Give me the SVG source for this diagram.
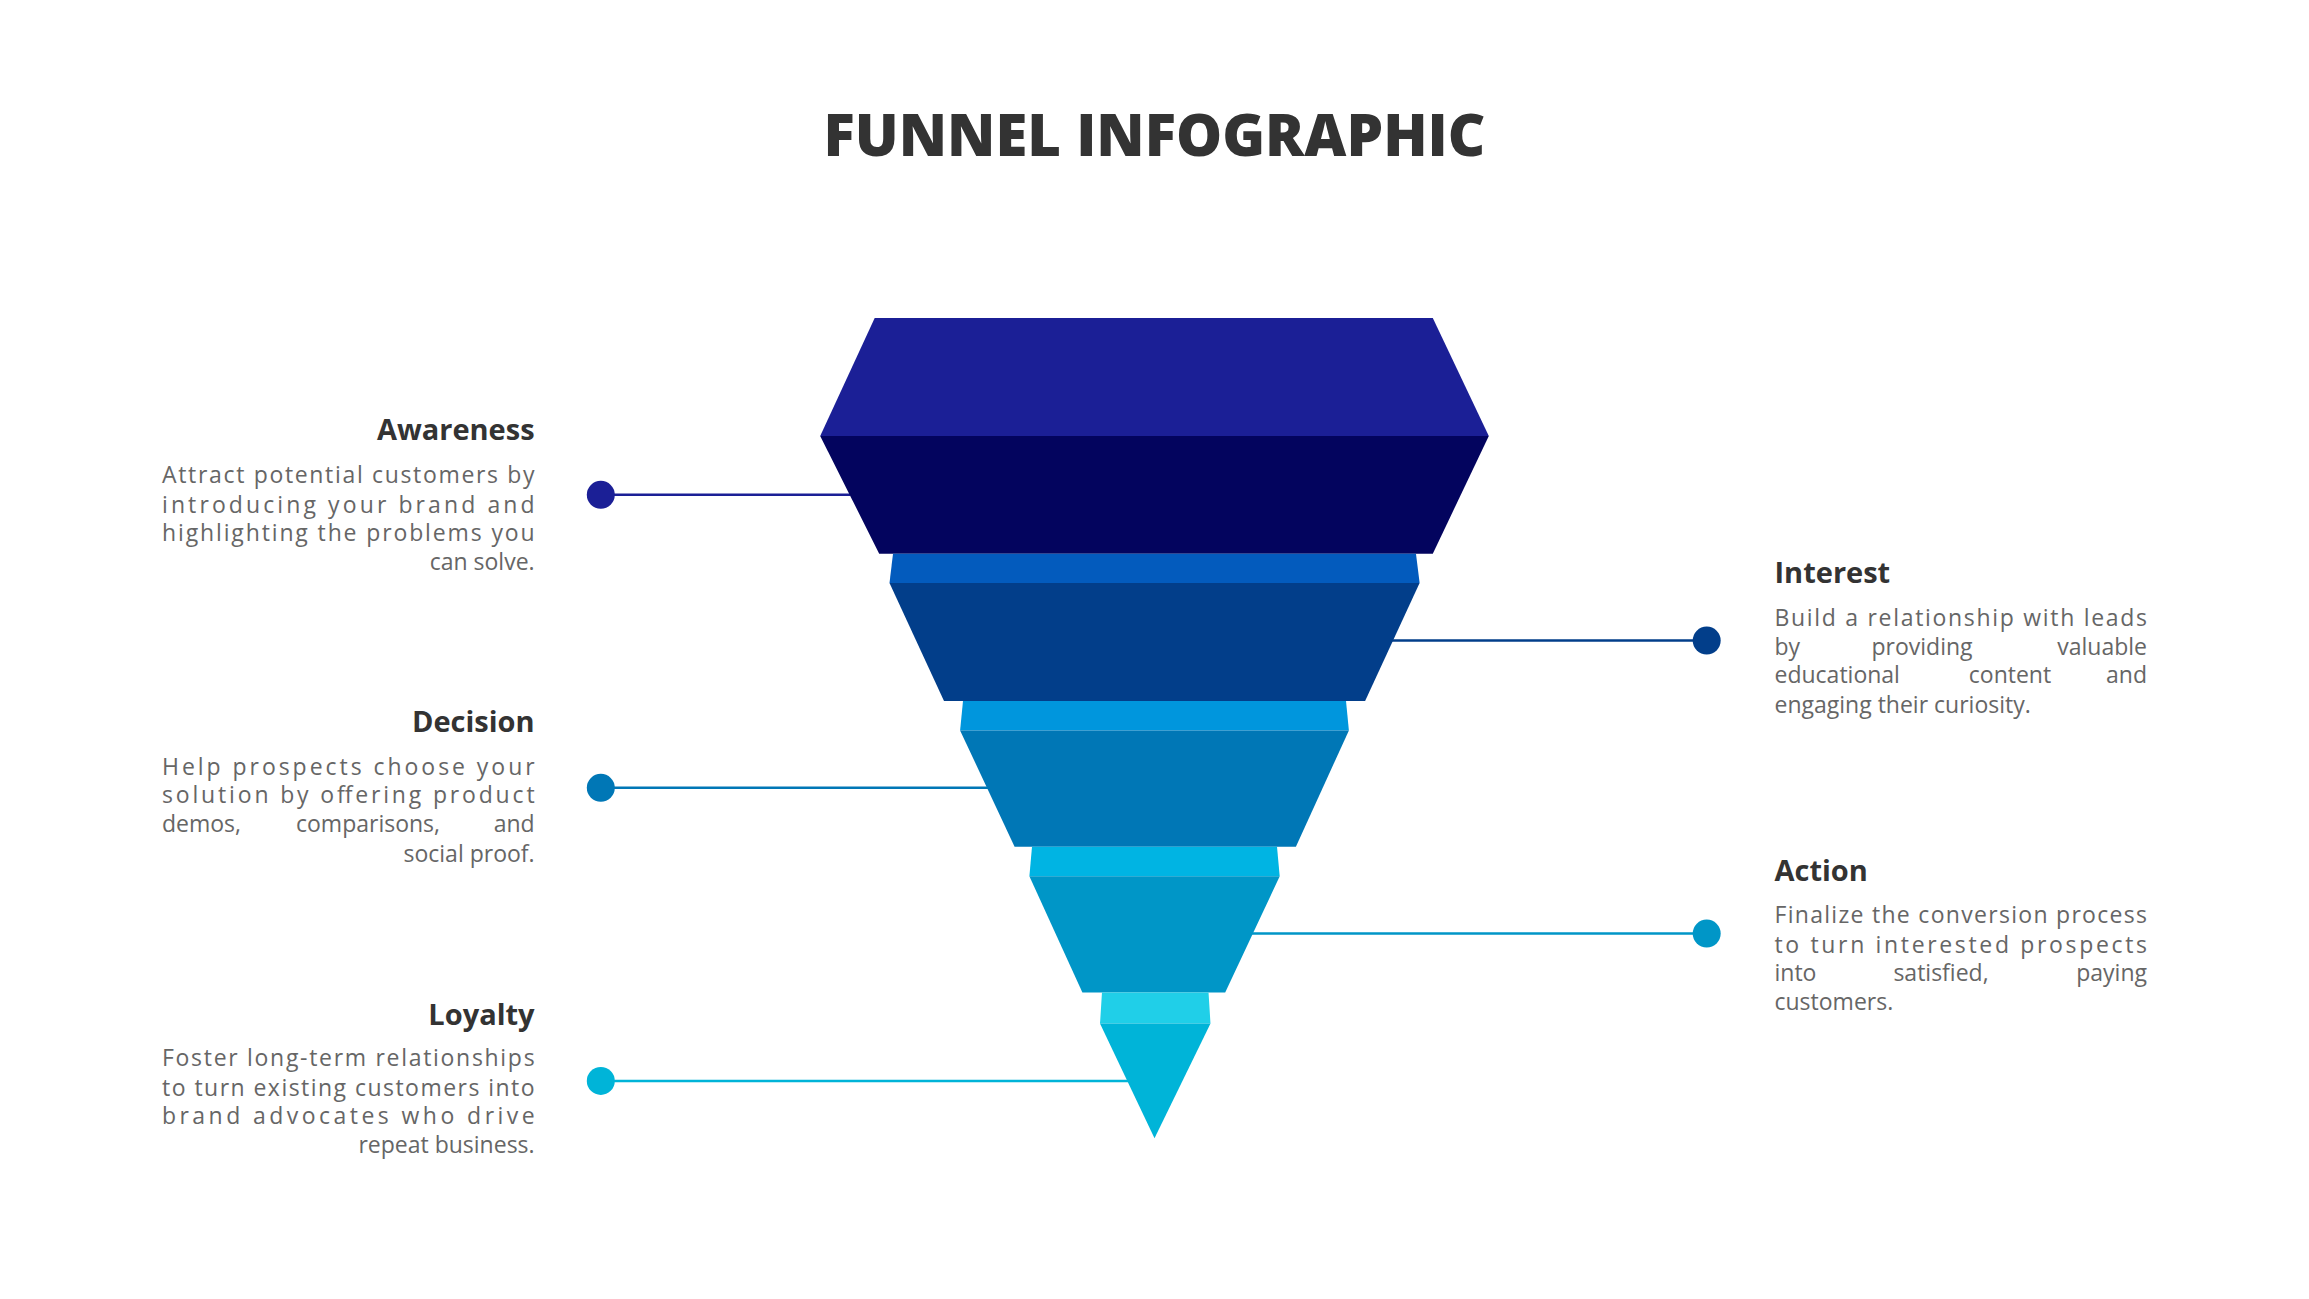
<svg xmlns="http://www.w3.org/2000/svg" width="2309" height="1299" viewBox="0 0 2309 1299">
<style>
.h{font-family:"Open Sans","Liberation Sans",sans-serif;font-weight:700;font-size:29px;fill:#333}
.b{font-family:"Open Sans","Liberation Sans",sans-serif;font-size:23px;fill:#666}
.c{stroke-width:2.5;fill:none}
</style>
<rect width="2309" height="1299" fill="#fff"/>
<text x="1154.5" y="156" text-anchor="middle" font-family="Open Sans, Liberation Sans, sans-serif" font-weight="800" font-size="58" fill="#333">FUNNEL INFOGRAPHIC</text>
<g id="connectors">
<line class="c" x1="600.8" y1="494.8" x2="850" y2="494.8" stroke="#1b1f96"/>
<line class="c" x1="1391.6" y1="640.6" x2="1706.7" y2="640.6" stroke="#023e8a"/>
<line class="c" x1="600.8" y1="787.8" x2="988" y2="787.8" stroke="#0077b6"/>
<line class="c" x1="1251.7" y1="933.6" x2="1706.7" y2="933.6" stroke="#0096c7"/>
<line class="c" x1="600.8" y1="1080.9" x2="1128" y2="1080.9" stroke="#00b4d8"/>
<circle cx="600.8" cy="494.8" r="14" fill="#1b1f96"/>
<circle cx="1706.7" cy="640.6" r="14" fill="#023e8a"/>
<circle cx="600.8" cy="787.8" r="14" fill="#0077b6"/>
<circle cx="1706.7" cy="933.6" r="14" fill="#0096c7"/>
<circle cx="600.8" cy="1080.9" r="14" fill="#00b4d8"/>
</g>
<g id="funnel">
<polygon points="874.7,318 1432.8,318 1488.8,436 820.2,436" fill="#1b1f96"/>
<polygon points="820.2,436 1488.8,436 1432.8,553.7 879.2,553.7" fill="#03045e"/>
<polygon points="893,553.7 1416,553.7 1419.6,583.1 889.5,583.1" fill="#035bbd"/>
<polygon points="889.5,583.1 1419.6,583.1 1365.1,701 944,701" fill="#023e8a"/>
<polygon points="963,701 1346,701 1348.9,730.4 960.1,730.4" fill="#0096dd"/>
<polygon points="960.1,730.4 1348.9,730.4 1295.9,846.7 1014.6,846.7" fill="#0077b6"/>
<polygon points="1032,846.7 1277,846.7 1279.7,876.2 1029.4,876.2" fill="#00b4e3"/>
<polygon points="1029.4,876.2 1279.7,876.2 1225.2,992.5 1082.4,992.5" fill="#0096c7"/>
<polygon points="1102,992.5 1208.5,992.5 1210.5,1023.5 1100,1023.5" fill="#20cfe8"/>
<polygon points="1100,1023.5 1210.5,1023.5 1154.5,1138.3" fill="#00b4d8"/>
</g>
<g id="awareness">
<text class="h" x="534.6" y="440.3" text-anchor="end">Awareness</text>
<text class="b" x="162" y="483" textLength="372.6" lengthAdjust="spacing">Attract potential customers by</text>
<text class="b" x="162" y="512.5" textLength="372.6" lengthAdjust="spacing">introducing your brand and</text>
<text class="b" x="162" y="540.5" textLength="372.6" lengthAdjust="spacing">highlighting the problems you</text>
<text class="b" x="534.6" y="570" text-anchor="end">can solve.</text>
</g>
<g id="interest">
<text class="h" x="1774.5" y="583.2">Interest</text>
<text class="b" x="1774.5" y="625.9" textLength="372.5" lengthAdjust="spacing">Build a relationship with leads</text>
<text class="b" x="1774.5" y="655.3">by</text>
<text class="b" x="1922" y="655.3" text-anchor="middle">providing</text>
<text class="b" x="2147" y="655.3" text-anchor="end">valuable</text>
<text class="b" x="1774.5" y="683.3">educational</text>
<text class="b" x="2010" y="683.3" text-anchor="middle">content</text>
<text class="b" x="2147" y="683.3" text-anchor="end">and</text>
<text class="b" x="1774.5" y="712.7">engaging their curiosity.</text>
</g>
<g id="decision">
<text class="h" x="534.6" y="731.9" text-anchor="end">Decision</text>
<text class="b" x="162" y="774.6" textLength="372.6" lengthAdjust="spacing">Help prospects choose your</text>
<text class="b" x="162" y="802.6" textLength="372.6" lengthAdjust="spacing">solution by offering product</text>
<text class="b" x="162" y="832">demos,</text>
<text class="b" x="368" y="832" text-anchor="middle">comparisons,</text>
<text class="b" x="534.6" y="832" text-anchor="end">and</text>
<text class="b" x="534.6" y="861.5" text-anchor="end">social proof.</text>
</g>
<g id="action">
<text class="h" x="1774.5" y="880.6">Action</text>
<text class="b" x="1774.5" y="923.3" textLength="372.5" lengthAdjust="spacing">Finalize the conversion process</text>
<text class="b" x="1774.5" y="952.8" textLength="372.5" lengthAdjust="spacing">to turn interested prospects</text>
<text class="b" x="1774.5" y="980.8">into</text>
<text class="b" x="1941" y="980.8" text-anchor="middle">satisfied,</text>
<text class="b" x="2147" y="980.8" text-anchor="end">paying</text>
<text class="b" x="1774.5" y="1010.2">customers.</text>
</g>
<g id="loyalty">
<text class="h" x="534.6" y="1024.9" text-anchor="end">Loyalty</text>
<text class="b" x="162" y="1066.2" textLength="372.6" lengthAdjust="spacing">Foster long-term relationships</text>
<text class="b" x="162" y="1095.6" textLength="372.6" lengthAdjust="spacing">to turn existing customers into</text>
<text class="b" x="162" y="1123.6" textLength="372.6" lengthAdjust="spacing">brand advocates who drive</text>
<text class="b" x="534.6" y="1153" text-anchor="end">repeat business.</text>
</g>
</svg>
